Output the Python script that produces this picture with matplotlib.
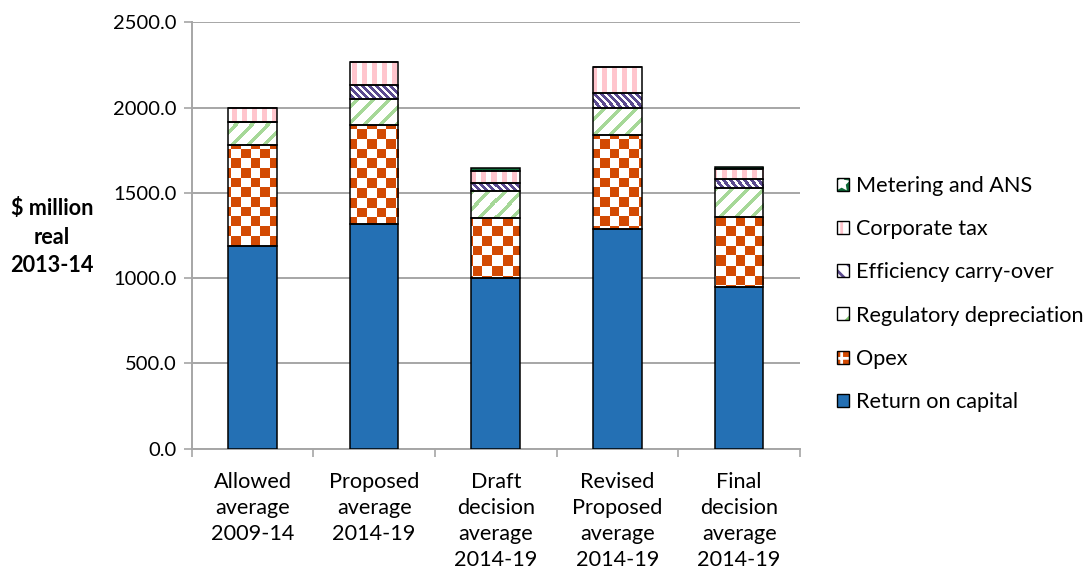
import numpy as np
import matplotlib
matplotlib.use('Agg')
import matplotlib.pyplot as plt
from matplotlib.patches import Patch
from matplotlib.colors import to_rgb

# ── Data ($ million, real 2013-14) ─────────────────────────────
categories = ['Allowed\naverage\n2009-14', 'Proposed\naverage\n2014-19',
              'Draft\ndecision\naverage\n2014-19', 'Revised\nProposed\naverage\n2014-19',
              'Final\ndecision\naverage\n2014-19']
return_on_capital = [1188, 1319, 1002, 1288, 949]
opex = [592, 577, 352, 551, 407]
regulatory_depreciation = [135, 152, 156, 160, 170]
efficiency_carry_over = [0, 86, 49, 85, 53]
corporate_tax = [84, 131, 71, 156, 59]
metering_ans = [0, 0, 17, 0, 15]

series = [
    ('Return on capital', return_on_capital, 'solid'),
    ('Opex', opex, 'checker'),
    ('Regulatory depreciation', regulatory_depreciation, 'fwd'),
    ('Efficiency carry-over', efficiency_carry_over, 'back'),
    ('Corporate tax', corporate_tax, 'vert'),
    ('Metering and ANS', metering_ans, 'stars'),
]

BLUE = '#2470B4'
ORANGE = '#D34A03'
GREEN = '#A6D898'
PURPLE = '#5B4A8F'
PINK = '#FFC5CD'
DKGREEN = '#0E6B38'
GRID = '#A6A6A6'

plt.rcParams['font.family'] = ['Lato', 'DejaVu Sans']
plt.rcParams['hatch.linewidth'] = 2.0

fig = plt.figure(figsize=(10.89, 5.74), dpi=100)
ax_rect = [0.176, 0.2186, 0.5586, 0.7425]
ax = fig.add_axes(ax_rect)
ax.set_xlim(-0.5, 4.5)
ax.set_ylim(0, 2500)

# pixel size of the plotting area, used to build texture images
W = int(round(ax_rect[2] * 1089))
H = int(round(ax_rect[3] * 574))
rows, cols = np.mgrid[0:H, 0:W]


def two_tone(mask, fg, bg='white'):
    fg, bg = np.array(to_rgb(fg)), np.array(to_rgb(bg))
    m = mask[..., None].astype(float)
    return m * fg + (1 - m) * bg


def texture(kind):
    if kind == 'checker':
        return two_tone(((rows // 9.7 + cols // 9.7) % 2) == 0, ORANGE)
    if kind == 'fwd':
        return two_tone(((cols + rows) % 16) < 5, GREEN)
    if kind == 'back':
        return two_tone(((cols - rows) % 7) < 3.5, PURPLE)
    if kind == 'vert':
        return two_tone((cols % 10) < 5, PINK)
    if kind == 'stars':
        return two_tone(~(((rows % 8) == 3) & ((cols % 8) == 3)), DKGREEN)
    return None


x = np.arange(len(categories))
bottom = np.zeros(len(categories))
for name, vals, kind in series:
    vals = np.array(vals, dtype=float)
    if kind == 'solid':
        ax.bar(x, vals, 0.4, bottom=bottom, color=BLUE, edgecolor='black',
               linewidth=1.1, zorder=3)
    else:
        bars = ax.bar(x, vals, 0.4, bottom=bottom, facecolor='none',
                      edgecolor='black', linewidth=1.1, zorder=3)
        img = texture(kind)
        for b, v in zip(bars, vals):
            if v <= 0:
                continue
            im = ax.imshow(img, extent=(-0.5, 4.5, 0, 2500), aspect='auto',
                           interpolation='nearest', zorder=2.5)
            im.set_clip_path(b)
    bottom += vals

# ── Axes styling ──────────────────────────────────────────────
ax.set_yticks(np.arange(0, 2501, 500))
ax.set_yticklabels([f'{v:.1f}' for v in np.arange(0, 2501, 500)], fontsize=14.5)
ax.yaxis.grid(True, color=GRID, linewidth=1.4, zorder=0)
ax.set_axisbelow(True)
ax.tick_params(axis='y', length=6, width=1.2, color=GRID, pad=5)

ax.set_xticks(x)
ax.set_xticklabels(categories, fontsize=15.6, linespacing=1.37)
ax.set_xticks(np.arange(-0.5, 5, 1), minor=True)
ax.tick_params(axis='x', which='major', length=0, pad=17)
ax.tick_params(axis='x', which='minor', length=6, width=1.2, color=GRID)

for s in ('top', 'right'):
    ax.spines[s].set_visible(False)
for s in ('left', 'bottom'):
    ax.spines[s].set_color(GRID)
    ax.spines[s].set_linewidth(1.4)

ax.set_ylabel('$ million\nreal\n2013-14', rotation=0, fontsize=15.6,
              fontweight='bold', ha='center', va='center', linespacing=1.43)
ax.yaxis.set_label_coords(-0.23, 0.496)

# ── Legend (top entry = top of stack) ─────────────────────────
def handle(kind):
    edge = Patch(facecolor='none', edgecolor='black', linewidth=1.0)
    if kind == 'solid':
        return Patch(facecolor=BLUE, edgecolor='black', linewidth=1.0)
    if kind == 'checker':
        return (Patch(facecolor=ORANGE, edgecolor='white', hatch='+', linewidth=0), edge)
    if kind == 'fwd':
        return (Patch(facecolor='white', edgecolor='#7CC46A', hatch='/', linewidth=0), edge)
    if kind == 'back':
        return (Patch(facecolor='white', edgecolor=PURPLE, hatch='\\\\', linewidth=0), edge)
    if kind == 'vert':
        return (Patch(facecolor='white', edgecolor=PINK, hatch='|', linewidth=0), edge)
    return (Patch(facecolor=DKGREEN, edgecolor='white', hatch='*', linewidth=0), edge)


handles = [handle(k) for _, _, k in series][::-1]
labels = [n for n, _, _ in series][::-1]
fig.legend(handles, labels, loc='center left',
           bbox_to_anchor=(837 / 1089, 1 - 294 / 574), bbox_transform=fig.transFigure,
           frameon=False, fontsize=15.6, borderpad=0, borderaxespad=0,
           handlelength=0.55, handleheight=0.55, handletextpad=0.33,
           labelspacing=1.07)

fig.savefig('out.png', dpi=100, facecolor='white')
